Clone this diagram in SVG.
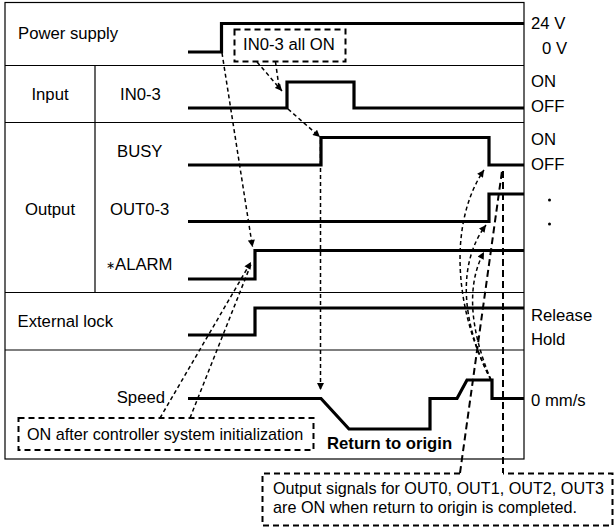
<svg xmlns="http://www.w3.org/2000/svg" width="615" height="527" viewBox="0 0 615 527">
<style>
text{font-family:"Liberation Sans",Arial,sans-serif;font-size:16.7px;fill:#000}
.b{font-weight:bold}
.n{font-size:16.2px}
.grid{fill:none;stroke:#000;stroke-width:1.2}
.wave{fill:none;stroke:#000;stroke-width:3.2;stroke-linejoin:miter}
.arr{fill:none;stroke:#000;stroke-width:1.5;stroke-dasharray:4 3}
.box{fill:#fff;stroke:#000;stroke-width:2;stroke-dasharray:6 4}
.ld{fill:none;stroke:#000;stroke-width:2;stroke-dasharray:7 4}
</style>
<defs>
<marker id="ah" viewBox="0 0 10 10" refX="10" refY="5" markerWidth="8" markerHeight="7" orient="auto" markerUnits="userSpaceOnUse"><path d="M0,0 L10,5 L0,10 z" fill="#000"/></marker>
</defs>
<rect width="615" height="527" fill="#fff"/>
<g id="frame">
<rect class="grid" x="5" y="2.5" width="519" height="456.5"/>
<path class="grid" d="M5,65.5 H524 M5,122.5 H524 M5,292.5 H524 M5,350 H524 M95,65.5 V292.5"/>
</g>
<g id="row-labels">
<text x="18" y="38.5">Power supply</text>
<text x="50" y="100" text-anchor="middle">Input</text>
<text x="120" y="100">IN0-3</text>
<text x="50" y="215" text-anchor="middle">Output</text>
<text x="117" y="156.5">BUSY</text>
<text x="110" y="215">OUT0-3</text>
<text x="106" y="270"><tspan font-size="11" dy="-1">∗</tspan><tspan x="115" dy="1">ALARM</tspan></text>
<text x="17.5" y="327">External lock</text>
<text x="165" y="403" text-anchor="end">Speed</text>
</g>
<g id="level-labels">
<text x="531" y="29">24 V</text>
<text x="542" y="54">0 V</text>
<text x="531" y="86.5">ON</text>
<text x="531" y="111.5">OFF</text>
<text x="531" y="145">ON</text>
<text x="531" y="170">OFF</text>
<circle cx="549.5" cy="200" r="1.5"/>
<circle cx="549.5" cy="224" r="1.5"/>
<text x="531" y="320.5">Release</text>
<text x="531" y="345">Hold</text>
<text x="531" y="406">0 mm/s</text>
</g>
<g id="waveforms">
<path id="w-power" class="wave" d="M188,52 H221.5 V23.5 H524"/>
<path id="w-in" class="wave" d="M188,108 H287 V82 H354 V108 H524"/>
<path id="w-busy" class="wave" d="M188,165 H321 V137.5 H489 V165 H524"/>
<path id="w-out" class="wave" d="M188,221.5 H489 V194 H524"/>
<path id="w-alarm" class="wave" d="M188,279 H255 V250.5 H524"/>
<path id="w-lock" class="wave" d="M188,335 H255 V308 H524"/>
<path id="w-speed" class="wave" d="M188,398.5 H321 L349,429 H430 V398.5 H457 L467,380 H492 V398.5 H524"/>
</g>
<g id="connectors">
<path class="arr" d="M222,53 L252.5,247" marker-end="url(#ah)"/>
<path class="arr" d="M257,62 L282,91" marker-end="url(#ah)"/>
<path class="arr" d="M275.5,62 L279,87"/>
<path class="arr" d="M288,109 L320,137" marker-end="url(#ah)"/>
<path class="arr" d="M320.5,140 V390" marker-end="url(#ah)"/>
<path class="arr" d="M160,418 L251,262" marker-end="url(#ah)"/>
<path class="arr" d="M190,418 L251.5,263"/>
<path class="arr" d="M491,380 C452,305 450,220 484,170" marker-end="url(#ah)"/>
<path class="arr" d="M491,380 C460,320 458,262 486,225" marker-end="url(#ah)"/>
<path class="arr" d="M491,380 C470,330 466,285 484,252" marker-end="url(#ah)"/>
<path class="ld" d="M460,473 L502,171"/>
<path class="ld" d="M503,171 V473"/>
</g>
<g id="note-in">
<rect class="box" x="234.5" y="29.5" width="111" height="32"/>
<text x="243" y="50">IN0-3 all ON</text>
</g>
<g id="note-init">
<rect class="box" x="18.5" y="418" width="295" height="32"/>
<text class="n" x="27" y="440">ON after controller system initialization</text>
</g>
<text class="b" x="327" y="449">Return to origin</text>
<g id="note-out">
<path class="box" d="M460,473.5 H262.5 V525.5 H612.5 V473.5 H503"/>
<text class="n" x="273" y="494">Output signals for OUT0, OUT1, OUT2, OUT3</text>
<text class="n" x="273" y="512.5">are ON when return to origin is completed.</text>
</g>
</svg>
